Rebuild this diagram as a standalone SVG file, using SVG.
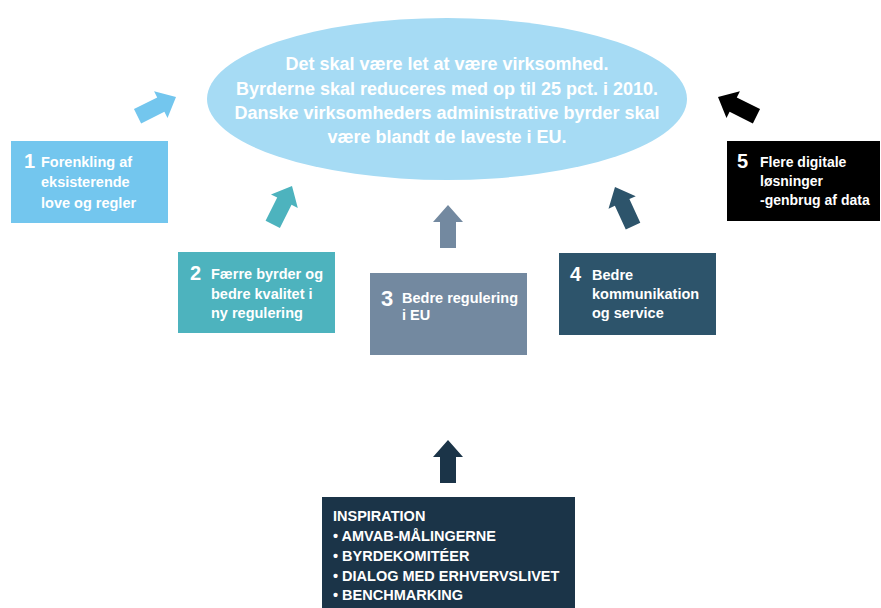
<svg xmlns="http://www.w3.org/2000/svg" width="881" height="608" viewBox="0 0 881 608">
<style>
text{font-family:"Liberation Sans",Arial,sans-serif;font-weight:bold;fill:#fff}
.goal{font-size:18px;text-anchor:middle}
.t{font-size:14.5px}
.t5{font-size:14px}
.n{font-size:20px}
.insp{font-size:14.5px}
</style>
<defs>
<polygon id="arr" points="0,0 15,17 8,17 8,43 -8,43 -8,17 -15,17"/>
</defs>
<rect width="881" height="608" fill="#fff"/>
<g id="goal">
<ellipse cx="447" cy="99" rx="240" ry="81" fill="#A6DBF4"/>
<text class="goal" x="447" y="70">Det skal være let at være virksomhed.</text>
<text class="goal" x="447" y="95">Byrderne skal reduceres med op til 25 pct. i 2010.</text>
<text class="goal" x="447" y="119">Danske virksomheders administrative byrder skal</text>
<text class="goal" x="447" y="143">være blandt de laveste i EU.</text>
</g>
<g id="node1">
<rect x="11" y="141" width="157" height="82" fill="#73C6EE"/>
<text class="n" x="24" y="168">1</text>
<text class="t" x="41" y="167">Forenkling af</text>
<text class="t" x="41" y="187">eksisterende</text>
<text class="t" x="41" y="208">love og regler</text>
</g>
<g id="node2">
<rect x="178" y="252" width="157" height="81" fill="#4DB3BE"/>
<text class="n" x="190" y="280">2</text>
<text class="t" x="211" y="279">Færre byrder og</text>
<text class="t" x="211" y="299">bedre kvalitet i</text>
<text class="t" x="211" y="318">ny regulering</text>
</g>
<g id="node3">
<rect x="370" y="273" width="157" height="82" fill="#7389A0"/>
<text class="n" x="381" y="306" style="font-size:22px">3</text>
<text class="t" x="402" y="303">Bedre regulering</text>
<text class="t" x="402" y="320">i EU</text>
</g>
<g id="node4">
<rect x="559" y="253" width="157" height="82" fill="#2D546B"/>
<text class="n" x="570" y="281">4</text>
<text class="t" x="592" y="280">Bedre</text>
<text class="t" x="592" y="299">kommunikation</text>
<text class="t" x="592" y="318">og service</text>
</g>
<g id="node5">
<rect x="727" y="141" width="153" height="80" fill="#000"/>
<text class="n" x="737" y="168">5</text>
<text class="t5" x="760" y="167">Flere digitale</text>
<text class="t5" x="760" y="186">løsninger</text>
<text class="t5" x="760" y="205">-genbrug af data</text>
</g>
<g id="inspiration">
<rect x="322" y="497" width="253" height="111" fill="#1B3448"/>
<text class="insp" x="333" y="521">INSPIRATION</text>
<text class="insp" x="333" y="541">• AMVAB-MÅLINGERNE</text>
<text class="insp" x="333" y="561">• BYRDEKOMITÉER</text>
<text class="insp" x="333" y="581">• DIALOG MED ERHVERVSLIVET</text>
<text class="insp" x="333" y="600">• BENCHMARKING</text>
</g>
<g id="connectors">
<use href="#arr" fill="#73C6EE" transform="translate(176,97) rotate(63.4)"/>
<use href="#arr" fill="#4DB3BE" transform="translate(292,186) rotate(26.6)"/>
<use href="#arr" fill="#7389A0" transform="translate(448,205)"/>
<use href="#arr" fill="#2D546B" transform="translate(615,187) rotate(-24.8)"/>
<use href="#arr" fill="#000" transform="translate(718,97) rotate(-63.4)"/>
<use href="#arr" fill="#1B3448" transform="translate(448,440)"/>
</g>
</svg>
